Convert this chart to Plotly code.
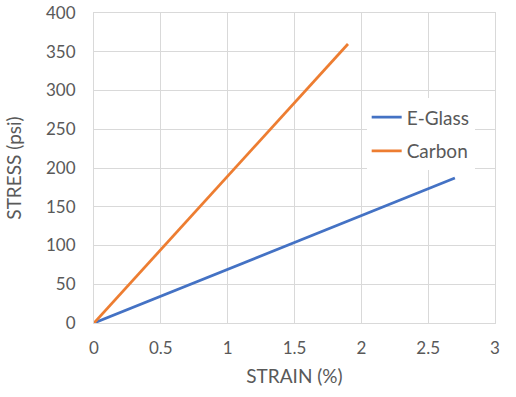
import plotly.graph_objects as go

series_names = ["E-Glass", "Carbon"]
eglass_strain = [0, 2.7]
eglass_stress = [0, 187]
carbon_strain = [0, 1.9]
carbon_stress = [0, 360]
x_ticks = [0, 0.5, 1, 1.5, 2, 2.5, 3]
x_tick_labels = ["0", "0.5", "1", "1.5", "2", "2.5", "3"]
y_ticks = [0, 50, 100, 150, 200, 250, 300, 350, 400]

FONT = "Lato, Carlito, Calibri, sans-serif"
TXT = "#595959"
GRID = "#d9d9d9"

fig = go.Figure()
fig.add_trace(go.Scatter(x=eglass_strain, y=eglass_stress, mode="lines",
                         name=series_names[0], legendgroup="g1",
                         line=dict(color="#4472C4", width=2.75)))
fig.add_trace(go.Scatter(x=carbon_strain, y=carbon_stress, mode="lines",
                         name=series_names[1], legendgroup="g2",
                         line=dict(color="#ED7D31", width=2.75)))

fig.update_layout(
    width=516, height=397,
    margin=dict(l=94, r=21, t=13, b=74, autoexpand=False),
    paper_bgcolor="white", plot_bgcolor="white",
    font=dict(family=FONT, color=TXT, size=17),
    showlegend=True,
    legend=dict(x=0.68, y=0.725, xanchor="left", yanchor="top",
                bgcolor="white", borderwidth=0,
                font=dict(size=19, color=TXT), itemwidth=30,
                traceorder="grouped", tracegroupgap=6),
    xaxis=dict(range=[0, 3], tickvals=x_ticks, ticktext=x_tick_labels,
               automargin=False,
               showgrid=True, gridcolor=GRID, gridwidth=1,
               zeroline=False, showline=True, linecolor=GRID, mirror=True,
               ticks="outside", ticklen=10, tickcolor="rgba(0,0,0,0)",
               tickfont=dict(size=17, color=TXT),
               title=dict(text="STRAIN (%)", font=dict(size=19, color=TXT), standoff=12)),
    yaxis=dict(range=[0, 400], tickvals=y_ticks,
               automargin=False,
               showgrid=True, gridcolor=GRID, gridwidth=1,
               zeroline=False, showline=True, linecolor=GRID, mirror=True,
               ticks="outside", ticklen=14, tickcolor="rgba(0,0,0,0)",
               tickfont=dict(size=17, color=TXT),
               title=dict(text="STRESS (psi)", font=dict(size=19, color=TXT), standoff=19)),
)

fig.write_html("out.html",
               config={"displayModeBar": False},
               post_script="document.body.style.margin='0px';document.body.style.overflow='hidden';")
